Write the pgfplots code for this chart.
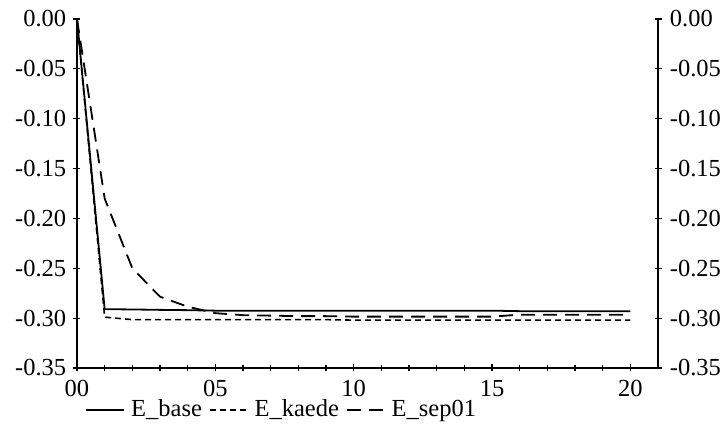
\documentclass[border=0pt]{standalone}
\usepackage{pgfplots}
\pgfplotsset{compat=1.18}
\usepackage{fontspec}
\setmainfont{Liberation Serif}
\begin{document}
\fontsize{24.5}{28}\selectfont
\begin{tikzpicture}
\pgfplotsset{
  common/.style={
    scale only axis, width=581pt, height=349pt,
    xmin=0, xmax=21, ymin=-0.35, ymax=0,
    ytick={0,-0.05,-0.10,-0.15,-0.20,-0.25,-0.30,-0.35},
    yticklabels={0.00,-0.05,-0.10,-0.15,-0.20,-0.25,-0.30,-0.35},
    tick align=outside, major tick length=7pt, minor tick length=6pt,
    tick style={black, line width=1.1pt},
    axis line style={black, line width=1.3pt},
    /pgf/number format/assume math mode=true,
    tick label style={font=\fontsize{24.5}{28}\selectfont},
    yticklabel style={xshift=1pt},
  }
}
\begin{axis}[common, name=main,
  axis x line=bottom, axis y line=left,
  axis line style={-, black, line width=1.3pt},
  xtick={0,5,10,15,20}, xticklabels={00,05,10,15,20},
  minor xtick={1,2,3,4,6,7,8,9,11,12,13,14,16,17,18,19},
  legend style={at={(0.009,-0.078)}, anchor=north west, draw=none, fill=none,
    font=\fontsize{24.5}{28}\selectfont,
    /tikz/every odd column/.append style={column sep=4pt},
    /tikz/every even column/.append style={column sep=5pt}},
  legend columns=3,
  legend image code/.code={\draw[#1] (0pt,0pt) -- (38pt,0pt);},
]
\addplot[black, line width=1.8pt] coordinates {
 (0,0) (1,-0.291) (2,-0.2913) (3,-0.2917) (4,-0.292) (5,-0.2925) (6,-0.2925)
 (7,-0.2925) (8,-0.2925) (9,-0.2925) (10,-0.2925) (11,-0.2925) (12,-0.2925)
 (13,-0.2925) (14,-0.2925) (15,-0.2925) (16,-0.293) (17,-0.293) (18,-0.293)
 (19,-0.293) (20,-0.293)};
\addlegendentry{E\_base}
\addplot[black, line width=1.6pt, dash pattern=on 6pt off 4pt] coordinates {
 (0,0) (1,-0.299) (2,-0.3015) (3,-0.3015) (4,-0.3015) (5,-0.3015) (6,-0.3015)
 (7,-0.3015) (8,-0.3015) (9,-0.3015) (10,-0.302) (11,-0.302) (12,-0.302)
 (13,-0.302) (14,-0.302) (15,-0.302) (16,-0.302) (17,-0.302) (18,-0.302)
 (19,-0.302) (20,-0.302)};
\addlegendentry{E\_kaede}
\addplot[black, line width=1.8pt, dash pattern=on 14pt off 8pt] coordinates {
 (0,0) (1,-0.18) (2,-0.25) (3,-0.2785) (4,-0.2885) (5,-0.295) (6,-0.297)
 (7,-0.2975) (8,-0.298) (9,-0.298) (10,-0.2985) (11,-0.2985) (12,-0.2985)
 (13,-0.2985) (14,-0.2985) (15,-0.2985) (16,-0.2965) (17,-0.2965) (18,-0.2965)
 (19,-0.2965) (20,-0.2965)};
\addlegendentry{E\_sep01}
\end{axis}
\begin{axis}[common,
  axis x line=none, axis y line=right,
  axis line style={-, black, line width=1.3pt},
  yticklabel style={xshift=-1pt},
]
\end{axis}
\pgfresetboundingbox
\path ([shift={(-77pt,-62pt)}]main.south west) rectangle ([shift={(645pt,368pt)}]main.south west);
\end{tikzpicture}
\end{document}
